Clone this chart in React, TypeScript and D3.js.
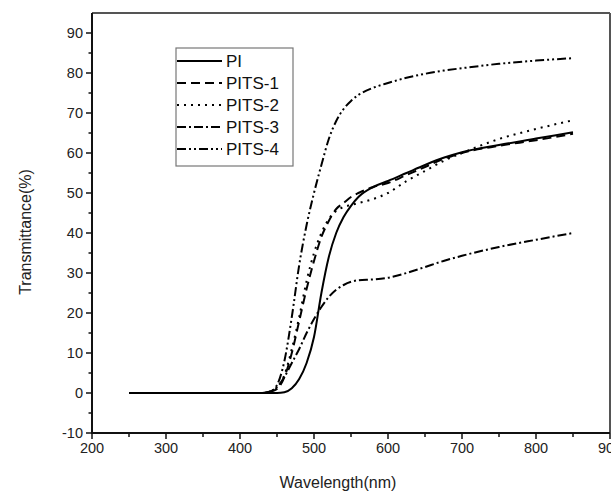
import React from "react";
import * as d3 from "d3";

const wavelengths = [250, 300, 350, 400, 430, 440, 450, 460, 470, 480, 490, 500, 510, 520, 530, 540, 550, 560, 580, 600, 625, 650, 675, 700, 750, 800, 850];
const seriesNames = ["PI", "PITS-1", "PITS-2", "PITS-3", "PITS-4"];
const piValues = [0, 0, 0, 0, 0, 0, 0, 0.2, 1.2, 3.5, 7.5, 14, 25, 34, 40, 44, 46.8, 49, 51.5, 53, 55, 57, 58.8, 60.2, 62, 63.6, 65.2];
const pits1Values = [0, 0, 0, 0, 0, 0.3, 1, 4, 10, 18, 26, 33, 39, 43, 46, 47.5, 49, 50, 51.5, 52.5, 54.5, 56.5, 58.5, 60, 61.8, 63.2, 64.8];
const pits2Values = [0, 0, 0, 0, 0, 0.3, 1.2, 4.5, 11, 19, 28, 35, 40, 43.5, 45.5, 46.5, 47, 47.5, 48.5, 50, 53, 55.5, 58, 60, 63.5, 66, 68.2];
const pits3Values = [0, 0, 0, 0, 0, 0.3, 1.5, 4, 7.5, 11, 15, 18.5, 21.5, 24, 25.8, 27, 27.8, 28.2, 28.4, 28.8, 30, 31.5, 33, 34.3, 36.5, 38.3, 40];
const pits4Values = [0, 0, 0, 0, 0, 0.3, 2, 8, 19, 32, 42, 50, 57, 63.5, 68, 71, 73, 74.5, 76.3, 77.5, 78.8, 79.8, 80.6, 81.2, 82.3, 83.1, 83.7];
const xTicks = [200, 300, 400, 500, 600, 700, 800, 900];
const yTicks = [-10, 0, 10, 20, 30, 40, 50, 60, 70, 80, 90];

const allValues = [piValues, pits1Values, pits2Values, pits3Values, pits4Values];
const dashes = ["none", "9,5", "2,5", "9,3,2,3", "9,3,2,3,2,3"];

const W = 611;
const H = 492;
const left = 92, right = 610, top = 13, bottom = 433;
const FONT = "'Liberation Sans', Arial, sans-serif";

export default function App() {
  const x = d3.scaleLinear().domain([200, 900]).range([left, right]);
  const y = d3.scaleLinear().domain([-10, 95]).range([bottom, top]);
  const line = d3
    .line<[number, number]>()
    .x((d) => x(d[0]))
    .y((d) => y(d[1]))
    .curve(d3.curveMonotoneX);

  const xMinor = d3.range(250, 900, 100);
  const yMinor = d3.range(-5, 95, 10);

  const legX = 176, legY = 48, legW = 117, legH = 118;

  return (
    <svg width={W} height={H} style={{ position: "absolute", left: 0, top: 0, background: "#fff" }}>
      <rect x={0} y={0} width={W} height={H} fill="#fff" />
      {allValues.map((vals, i) => (
        <path
          key={i}
          d={line(wavelengths.map((w, j) => [w, vals[j]] as [number, number])) || ""}
          fill="none"
          stroke="#000"
          strokeWidth={2}
          strokeDasharray={dashes[i]}
        />
      ))}
      {/* frame */}
      <line x1={left} y1={top} x2={right} y2={top} stroke="#555" strokeWidth={2} />
      <line x1={right} y1={top} x2={right} y2={bottom} stroke="#555" strokeWidth={2} />
      <line x1={left} y1={top} x2={left} y2={bottom + 1} stroke="#111" strokeWidth={2} />
      <line x1={left - 1} y1={bottom} x2={right} y2={bottom} stroke="#111" strokeWidth={2} />
      {/* y ticks */}
      {yTicks.map((t) => (
        <g key={"y" + t}>
          <line x1={left - 6} y1={y(t)} x2={left} y2={y(t)} stroke="#111" strokeWidth={1.5} />
          <text x={left - 9} y={y(t)} dy="0.35em" textAnchor="end" fontSize={14.5} fontFamily={FONT} fill="#222">
            {t}
          </text>
        </g>
      ))}
      {yMinor.map((t) => (
        <line key={"ym" + t} x1={left - 3.5} y1={y(t)} x2={left} y2={y(t)} stroke="#111" strokeWidth={1.5} />
      ))}
      {/* x ticks */}
      {xTicks.map((t) => (
        <g key={"x" + t}>
          <line x1={x(t)} y1={bottom} x2={x(t)} y2={bottom + 6} stroke="#111" strokeWidth={1.5} />
          <text x={x(t)} y={bottom + 20} textAnchor="middle" fontSize={14.5} fontFamily={FONT} fill="#222">
            {t}
          </text>
        </g>
      ))}
      {xMinor.map((t) => (
        <line key={"xm" + t} x1={x(t)} y1={bottom} x2={x(t)} y2={bottom + 4} stroke="#111" strokeWidth={1.5} />
      ))}
      {/* axis titles */}
      <text x={338} y={488} textAnchor="middle" fontSize={16} fontFamily={FONT} fill="#222">
        Wavelength(nm)
      </text>
      <text
        transform={`translate(31, 232) rotate(-90)`}
        textAnchor="middle"
        fontSize={16}
        fontFamily={FONT}
        fill="#222"
      >
        Transmittance(%)
      </text>
      {/* legend */}
      <rect x={legX} y={legY} width={legW} height={legH} fill="#fff" stroke="#777" strokeWidth={1.2} />
      {seriesNames.map((name, i) => {
        const ly = legY + 13 + i * 22;
        return (
          <g key={name}>
            <line x1={legX + 1} y1={ly} x2={legX + 46} y2={ly} stroke="#000" strokeWidth={2} strokeDasharray={dashes[i]} />
            <text x={legX + 50} y={ly} dy="0.35em" fontSize={17} fontFamily={FONT} fill="#111">
              {name}
            </text>
          </g>
        );
      })}
    </svg>
  );
}
